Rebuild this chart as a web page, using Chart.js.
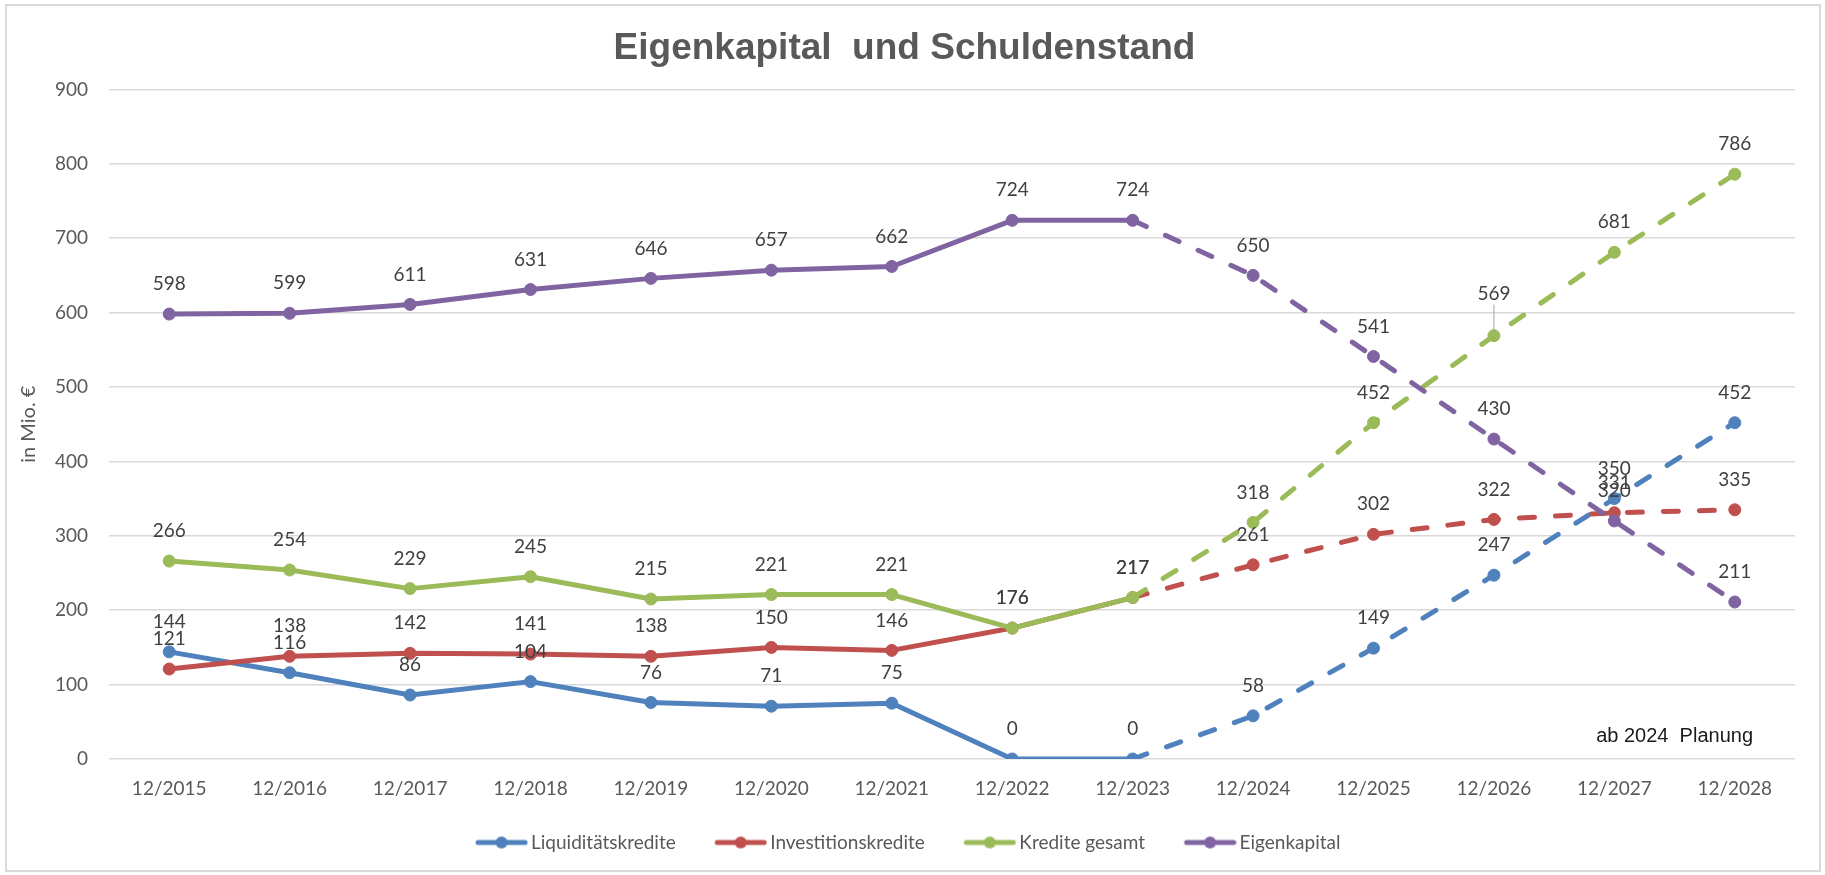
<!DOCTYPE html>
<html>
<head>
<meta charset="utf-8">
<script src="https://cdn.jsdelivr.net/npm/chart.js@4.4.0/dist/chart.umd.min.js"></script>
<style>
  html, body { margin: 0; padding: 0; background: #fff; }
  #wrap { width: 1825px; height: 875px; }
</style>
</head>
<body>
<div id="wrap"><canvas id="debtChart" width="1825" height="875"></canvas></div>
<script>
// values (in Mio. €)
const categories = ['12/2015', '12/2016', '12/2017', '12/2018', '12/2019', '12/2020', '12/2021',
    '12/2022', '12/2023', '12/2024', '12/2025', '12/2026', '12/2027', '12/2028'];
const liquiditaetskredite = [144, 116, 86, 104, 76, 71, 75, 0, 0, 58, 149, 247, 350, 452];
const investitionskredite = [121, 138, 142, 141, 138, 150, 146, 176, 217, 261, 302, 322, 331, 335];
const krediteGesamt = [266, 254, 229, 245, 215, 221, 221, 176, 217, 318, 452, 569, 681, 786];
const eigenkapital = [598, 599, 611, 631, 646, 657, 662, 724, 724, 650, 541, 430, 320, 211];
const seriesNames = ['Liquiditätskredite', 'Investitionskredite', 'Kredite gesamt', 'Eigenkapital'];
const seriesColors = ['#4F81BD', '#C0504D', '#9BBB59', '#8064A2'];
const planStartIndex = 8; // dashed from 12/2023 on (planning from 2024)

// legend marker: line with a dot, like Excel; drawn in the right part of the image
// so the text follows closely and the gap before the marker stays wide
function legendMarker(color) {
    const c = document.createElement('canvas');
    c.width = 66; c.height = 14;
    const g = c.getContext('2d');
    g.strokeStyle = color;
    g.lineWidth = 5;
    g.lineCap = 'round';
    g.beginPath(); g.moveTo(16, 7); g.lineTo(63, 7); g.stroke();
    g.fillStyle = color;
    g.beginPath(); g.arc(39.5, 7, 6, 0, Math.PI * 2); g.fill();
    return c;
}

const frame = {
    id: 'frame',
    beforeDraw(chart) {
        const ctx = chart.ctx;
        ctx.save();
        ctx.fillStyle = '#ffffff';
        ctx.fillRect(0, 0, chart.width, chart.height);
        ctx.strokeStyle = '#d9d9d9';
        ctx.lineWidth = 2;
        ctx.strokeRect(6, 5, 1814, 866);
        ctx.restore();
    },
    afterDraw(chart) {
        const ctx = chart.ctx;
        ctx.save();
        ctx.font = '20px "Liberation Sans", Arial, sans-serif';
        ctx.fillStyle = '#1a1a1a';
        ctx.textAlign = 'right';
        ctx.textBaseline = 'middle';
        ctx.fillText('ab 2024  Planung', 1753, 736);
        ctx.restore();
    }
};

const valueLabels = {
    id: 'valueLabels',
    afterDatasetsDraw(chart) {
        const ctx = chart.ctx;
        ctx.save();
        ctx.font = '19px Lato, sans-serif';
        ctx.fillStyle = '#404040';
        ctx.textAlign = 'center';
        ctx.textBaseline = 'middle';
        chart.data.datasets.forEach((ds, i) => {
            const meta = chart.getDatasetMeta(i);
            meta.data.forEach((pt, j) => {
                let lift = 30;
                // the 569 label sits higher with a leader line in the original
                if (i === 2 && j === 11) {
                    lift = 42;
                    ctx.strokeStyle = '#a6a6a6';
                    ctx.lineWidth = 1;
                    ctx.beginPath();
                    ctx.moveTo(pt.x, pt.y - lift + 11);
                    ctx.lineTo(pt.x, pt.y - 2);
                    ctx.stroke();
                }
                ctx.fillText(ds.data[j], pt.x, pt.y - lift);
            });
        });
        ctx.restore();
    }
};

const allSeries = [liquiditaetskredite, investitionskredite, krediteGesamt, eigenkapital];

const ctx = document.getElementById('debtChart').getContext('2d');
const debtChart = new Chart(ctx, {
    type: 'line',
    data: {
        labels: categories,
        datasets: allSeries.map((values, i) => ({
            label: seriesNames[i],
            data: values,
            borderColor: seriesColors[i],
            backgroundColor: seriesColors[i],
            pointBackgroundColor: seriesColors[i],
            pointBorderColor: seriesColors[i],
            pointRadius: 6,
            pointBorderWidth: 1,
            borderWidth: 5,
            borderCapStyle: 'round',
            borderJoinStyle: 'round',
            tension: 0,
            fill: false,
            order: 4 - i, // later series drawn on top, as in Excel
            segment: {
                borderDash: c => c.p0DataIndex >= planStartIndex ? [15, 21] : undefined
            }
        }))
    },
    options: {
        responsive: false,
        animation: false,
        layout: { padding: { top: 8, left: 14, right: 30, bottom: 13 } },
        plugins: {
            title: {
                display: true,
                text: 'Eigenkapital  und Schuldenstand',
                color: '#595959',
                font: { family: '"Liberation Sans", Arial, sans-serif', size: 37, weight: 'bold' },
                padding: { top: 19, bottom: 18 }
            },
            legend: {
                position: 'bottom',
                labels: {
                    color: '#595959',
                    font: { family: 'Lato, sans-serif', size: 19 },
                    usePointStyle: true,
                    pointStyleWidth: 53,
                    padding: 32,
                    generateLabels: chart => chart.data.datasets.map((ds, i) => ({
                        text: ds.label,
                        pointStyle: legendMarker(seriesColors[i]),
                        fillStyle: seriesColors[i],
                        strokeStyle: seriesColors[i],
                        lineWidth: 0,
                        fontColor: '#595959',
                        datasetIndex: i,
                        hidden: false
                    }))
                }
            },
            tooltip: { enabled: false }
        },
        scales: {
            x: {
                offset: true,
                grid: { display: false, drawTicks: false },
                border: { display: false },
                ticks: {
                    color: '#595959',
                    font: { family: 'Lato, sans-serif', size: 19 },
                    padding: 18,
                    maxRotation: 0,
                    autoSkip: false
                },
                afterFit: scale => { scale.height = 42; }
            },
            y: {
                min: 0,
                max: 900,
                ticks: {
                    stepSize: 100,
                    color: '#595959',
                    font: { family: 'Lato, sans-serif', size: 19 },
                    padding: 21
                },
                grid: { color: '#d9d9d9', lineWidth: 1.5, drawTicks: false },
                border: { display: false },
                title: {
                    display: true,
                    text: 'in Mio. €',
                    color: '#595959',
                    font: { family: 'Lato, sans-serif', size: 20 },
                    padding: { top: 3, bottom: 0 }
                },
                afterFit: scale => { scale.width = 95; }
            }
        }
    },
    plugins: [frame, valueLabels]
});
</script>
</body>
</html>
